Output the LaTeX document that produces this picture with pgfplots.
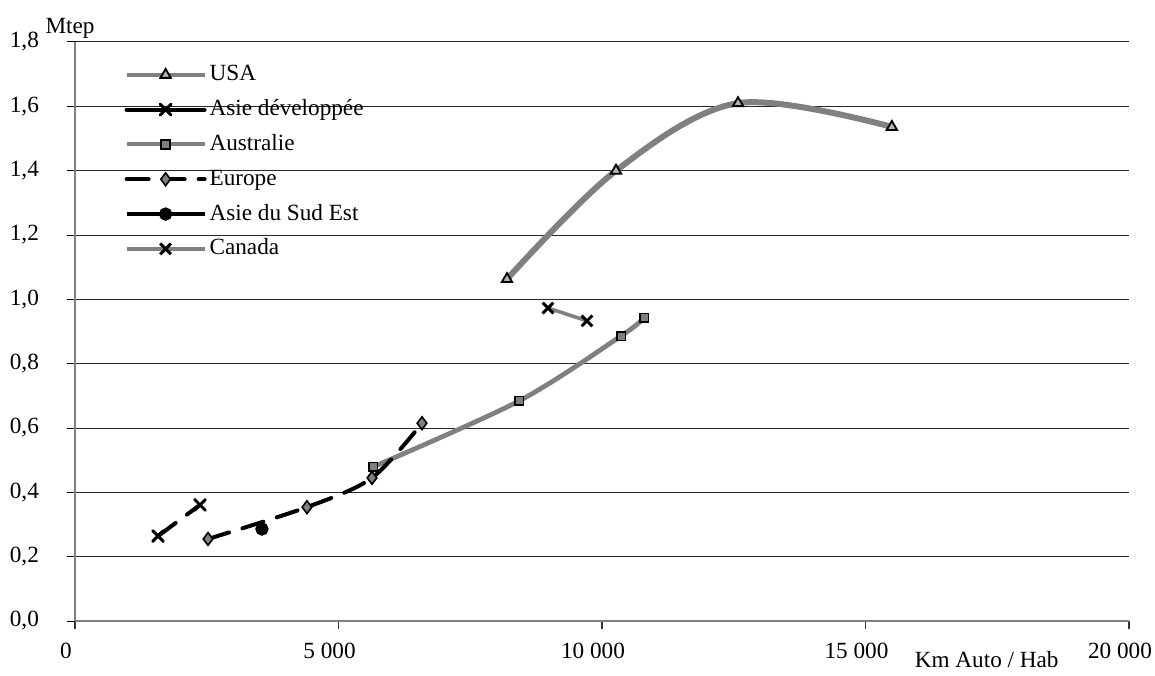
\documentclass[border=0pt]{standalone}
\usepackage{fontspec}
\setmainfont{Liberation Serif}
\usepackage{pgfplots}
\pgfplotsset{compat=1.18}
\definecolor{lgray}{RGB}{128,128,128}
\pgfplotsset{
  mylegend/.style={legend image code/.code={\draw[mark repeat=2,mark phase=2,##1,line width=2pt] plot coordinates {(0pt,0pt) (19.5pt,0pt) (39pt,0pt)};}},
  solidlegend/.style={legend image code/.code={\draw[mark repeat=2,mark phase=2,##1,solid,line width=2pt] plot coordinates {(0pt,0pt) (19.5pt,0pt) (39pt,0pt)};}},
}
\begin{document}
\fontsize{11.6}{13.9}\selectfont
\begin{tikzpicture}
\begin{axis}[
  scale only axis, width=527pt, height=289.5pt,
  xmin=0, xmax=20000, ymin=0, ymax=1.8,
  axis x line*=bottom, axis y line*=left,
  axis line style={lgray, line width=0.8pt},
  xtick={0,5000,10000,15000,20000},
  ytick={0,0.2,...,1.81},
  tick align=outside,
  major tick length=4pt,
  x tick style={black!80, line width=0.6pt},
  y tick style={black, line width=0.5pt},
  ymajorgrids,
  major grid style={black!85, line width=0.5pt},
  scaled x ticks=false,
  /pgf/number format/assume math mode=true,
  xticklabel style={/pgf/number format/.cd, fixed, 1000 sep={\ }, /tikz/.cd, yshift=-3pt, xshift=-4.5pt},
  yticklabel style={/pgf/number format/.cd, fixed, fixed zerofill, precision=1, use comma, /tikz/.cd, xshift=-10pt},
  xlabel={Km Auto / Hab},
  every axis x label/.style={at={(axis description cs:0.865,0)}, anchor=center, yshift=-19.5pt},
  ylabel={Mtep},
  every axis y label/.style={at={(axis description cs:0,1)}, anchor=center, xshift=-2.5pt, yshift=7pt},
  legend style={at={(axis description cs:0.041,0.975)}, anchor=north west, draw=none, fill=none,
    row sep=3.4pt, column sep=0pt,
    nodes={inner sep=1.5pt, text height=8.5pt, text depth=2.5pt}},
  legend cell align=left,
  mylegend,
]
% USA
\addplot[lgray, line width=3pt, smooth, tension=0.55, mark=triangle*, mark size=3pt,
  mark options={solid, fill=lgray!60, draw=black, line width=0.9pt}]
  coordinates {(8197,1.063) (10266,1.400) (12581,1.610) (15500,1.536)};
\addlegendentry{USA}
% Asie developpee
\addplot[black, line width=2pt, dash pattern=on 11pt off 7pt, line cap=round, mark=x, mark size=3.8pt,
  mark options={solid, black, line width=1.5pt}, solidlegend]
  coordinates {(1575,0.264) (2372,0.361)};
\addlegendentry{Asie développée}
% Australie
\addplot[lgray, line width=2.4pt, smooth, tension=0.5, mark=square*, mark size=2.2pt,
  mark options={solid, fill=lgray, draw=black, line width=0.9pt}]
  coordinates {(5655,0.479) (8425,0.684) (10361,0.886) (10797,0.942)};
\addlegendentry{Australie}
% Europe
\addplot[black, line width=2pt, dash pattern=on 11pt off 7pt, line cap=round, smooth, tension=0.5,
  mark=diamond*, mark size=3.2pt,
  mark options={solid, fill=lgray, draw=black, line width=0.8pt}]
  coordinates {(2524,0.255) (4402,0.354) (5636,0.445) (6584,0.615)};
\addlegendentry{Europe}
% Asie du Sud Est
\addplot[black, line width=2pt, mark=*, mark size=2.3pt, mark options={solid, fill=black}]
  coordinates {(3548,0.286)};
\addlegendentry{Asie du Sud Est}
% Canada
\addplot[lgray, line width=1.8pt, mark=x, mark size=3.8pt,
  mark options={solid, black, line width=1.5pt}]
  coordinates {(8975,0.973) (9715,0.933)};
\addlegendentry{Canada}
\coordinate (bl) at (rel axis cs:0,0);
\coordinate (tr) at (rel axis cs:1,1);
\end{axis}
\pgfresetboundingbox
\path ([xshift=-37.5pt,yshift=-27pt]bl) rectangle ([xshift=13pt,yshift=21pt]tr);
\end{tikzpicture}
\end{document}
